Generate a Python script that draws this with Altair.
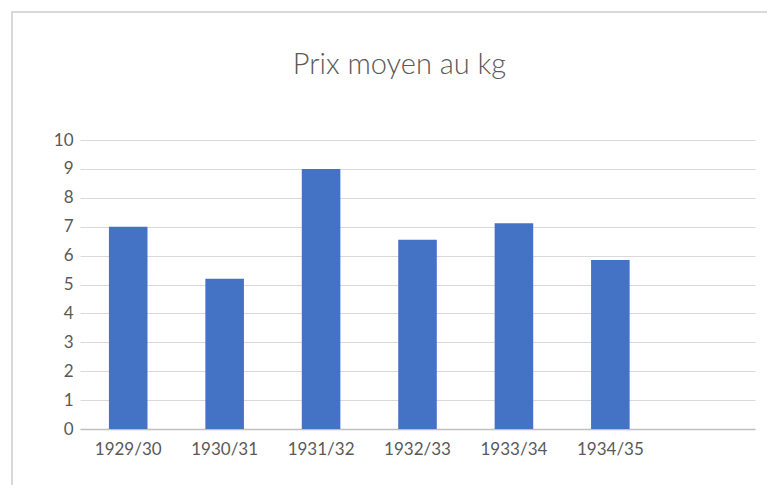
import altair as alt
import pandas as pd

seasons = ["1929/30", "1930/31", "1931/32", "1932/33", "1933/34", "1934/35"]
prices = [7.0, 5.2, 9.0, 6.55, 7.12, 5.85]
empty_slot = [" "]
title_text = "Prix moyen au kg"

df = pd.DataFrame({"season": seasons, "price": prices})

FONT = "Lato"
GREY = "#595959"

bars = alt.Chart(df).mark_bar(color="#4472C4").encode(
    x=alt.X(
        "season:N",
        scale=alt.Scale(domain=seasons + empty_slot, paddingInner=0.6, paddingOuter=0.3),
        axis=alt.Axis(
            title=None, labelAngle=0, ticks=False, grid=False,
            domainColor="#bfbfbf", domainWidth=1.5,
            labelFont=FONT, labelFontSize=17, labelColor=GREY, labelPadding=12,
        ),
    ),
    y=alt.Y(
        "price:Q",
        scale=alt.Scale(domain=[0, 10], nice=False),
        axis=alt.Axis(
            title=None, values=list(range(0, 11)), ticks=False, domain=False,
            gridColor="#d9d9d9", gridWidth=1,
            labelFont=FONT, labelFontSize=17, labelColor=GREY, labelPadding=7,
        ),
    ),
)

frame = alt.Chart(df).mark_rect(fill=None, stroke="#d9d9d9", strokeWidth=1.5, clip=False).encode(
    x=alt.value(-68), x2=alt.value(720), y=alt.value(-128), y2=alt.value(380)
)

chart = alt.layer(frame, bars).properties(
    width=675,
    height=289,
    padding={"left": 72, "top": 132, "right": 12, "bottom": 56},
    autosize=alt.AutoSizeParams(type="none"),
    title=alt.TitleParams(
        text=title_text, font=FONT, fontSize=29, fontWeight=300,
        color=GREY, anchor="middle", dx=-18, offset=-92, baseline="alphabetic",
    ),
).configure_view(stroke=None)

chart.save("out.html", embed_options={"renderer": "svg", "actions": False})
